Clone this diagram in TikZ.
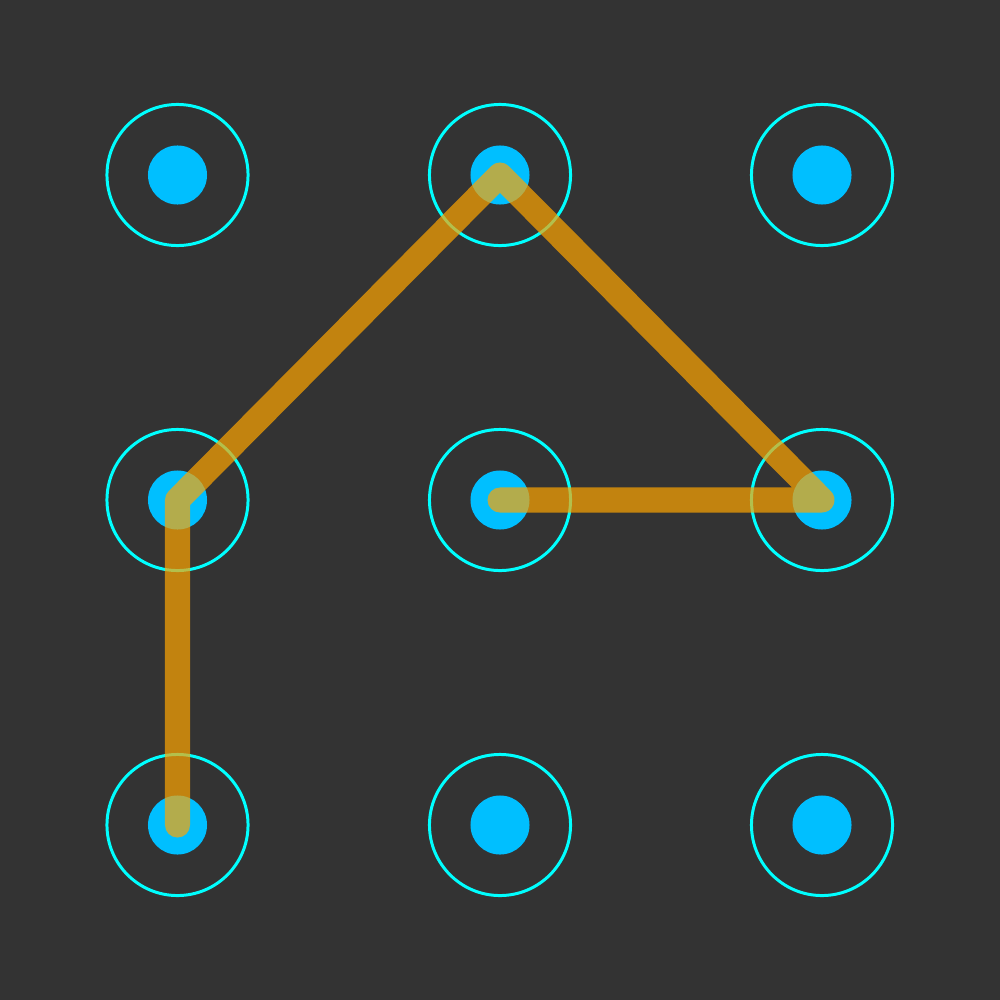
\documentclass[tikz,border=0pt]{standalone}
\begin{document}
\begin{tikzpicture}[x=0.01cm,y=-0.01cm,
  ring/.style={circle,draw=ringcol,line width=0.85pt,minimum size=1.41cm,inner sep=0pt},
  dot/.style={circle,fill=dotcol,minimum size=0.59cm,inner sep=0pt},
  stroke/.style={draw=strokecol,draw opacity=0.7,line width=0.25cm,line cap=round,line join=round}]
\definecolor{bgcol}{HTML}{333333}
\definecolor{ringcol}{HTML}{00FFFF}
\definecolor{dotcol}{HTML}{00BFFF}
\definecolor{strokecol}{HTML}{FFA500}
\fill[bgcol] (0,0) rectangle (1000,1000);
\useasboundingbox (0,0) rectangle (1000,1000);
\foreach \i/\x in {1/177.5,2/500,3/822}{
  \foreach \j/\y in {1/175,2/500,3/825}{
    \node[ring] (r\i\j) at (\x,\y) {};
    \node[dot] (p\i\j) at (\x,\y) {};
  }
}
\draw[stroke] (p13.center) -- (p12.center) -- (p21.center) -- (p32.center) -- (p22.center);
\end{tikzpicture}
\end{document}
